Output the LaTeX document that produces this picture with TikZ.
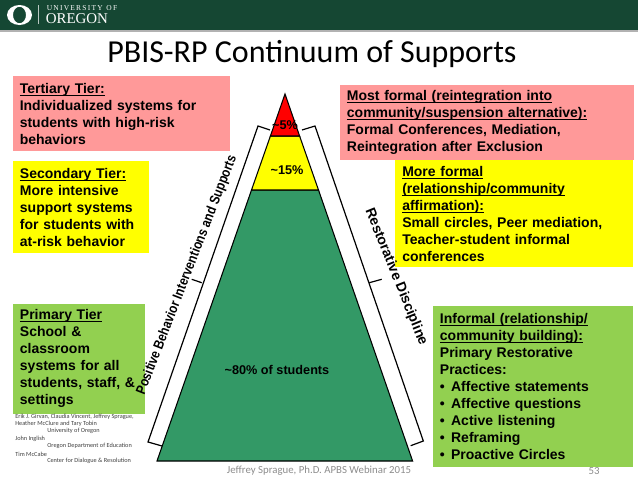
\documentclass[tikz,border=0pt]{standalone}
\usepackage{fontspec}
\setmainfont{Liberation Sans}
\newfontfamily\slidefont{Carlito}
\newfontfamily\logofont{Liberation Serif}
\usetikzlibrary{positioning}
\definecolor{uogreen}{HTML}{154733}
\definecolor{tierpink}{HTML}{FF9999}
\definecolor{tieryellow}{HTML}{FFFF00}
\definecolor{tiergreen}{HTML}{92D050}
\definecolor{pyramidgreen}{HTML}{339966}
\definecolor{footgray}{HTML}{8C8C8C}
\newcommand{\tierhead}[1]{\vphantom{Ag}\underline{\smash{#1}}}
\newcommand{\tierbullet}{\makebox[8.4pt][l]{\textbullet}}

\begin{document}
\begin{tikzpicture}[
  x=0.75pt, y=-0.75pt,
  tier/.style={rectangle, anchor=north west, align=left, inner sep=0pt, font=\fontsize{10.5}{12.75}\selectfont\bfseries},
  level/.style={draw=black, line width=0.8pt},
  bracket/.style={draw=black, line width=0.9pt},
  sidelabel/.style={font=\fontsize{10.5}{13}\selectfont\bfseries, inner sep=0pt},
  pct/.style={font=\fontsize{9.5}{11}\selectfont\bfseries, inner sep=0pt},
  credit/.style={anchor=west, inner sep=0pt, text=black!75, font=\slidefont\fontsize{4.7}{6}\selectfont},
  foot/.style={inner sep=0pt, text=footgray, font=\slidefont\fontsize{8.1}{10}\selectfont}
]
  \useasboundingbox (0,0) rectangle (638,479);

  % header band
  \fill[black!30] (0,30) rectangle (638,32);
  \fill[uogreen] (0,0) rectangle (638,30);
  \fill[white, even odd rule] (19.5,15) ellipse [x radius=12.5, y radius=10] (19.5,15) ellipse [x radius=6.5, y radius=8.3];
  \draw[white!70!uogreen, line width=0.6pt] (38,5) -- (38,24);
  \node[anchor=west, inner sep=0pt, text=white, font=\logofont\fontsize{5.6}{6}\selectfont] (univ) at (46.5,8.3) {U\,N\,I\,V\,E\,R\,S\,I\,T\,Y\ \ O\,F};
  \node[anchor=west, inner sep=0pt, text=white, font=\logofont\fontsize{11.2}{14}\selectfont] (oregon) at (45.5,18.6) {OREGON};

  \node[inner sep=0pt, font=\slidefont\fontsize{24}{30}\selectfont] (title) at (312,54) {PBIS-RP Continuum of Supports};

  % left boxes
  \node[tier, fill=tierpink, minimum width=162.75pt, minimum height=56.25pt, text width=153pt, inner xsep=4.9pt] (tertiary) at (13,76)
    {\tierhead{Tertiary Tier:}\\Individualized systems for\\students with high-risk\\behaviors};
  \node[tier, fill=tieryellow, minimum width=102pt, minimum height=69pt, text width=92pt, inner xsep=4.9pt] (secondary) at (13,161)
    {\tierhead{Secondary Tier:}\\More intensive\\support systems\\for students with\\at-risk behavior};
  \node[tier, fill=tiergreen, minimum width=99pt, minimum height=82pt, text width=89pt, inner xsep=4.9pt] (primary) at (13,304)
    {\tierhead{Primary Tier}\\School \&\\classroom\\systems for all\\students, staff, \&\\settings};

  % right boxes
  \node[tier, fill=tierpink, minimum width=219.75pt, minimum height=56.25pt, text width=210pt, inner xsep=5pt] (mostformal) at (340,85)
    {\tierhead{Most formal (reintegration into}\\\tierhead{community/suspension alternative):}\\Formal Conferences, Mediation,\\Reintegration after Exclusion};
  \node[tier, fill=tieryellow, minimum width=178.5pt, minimum height=80.25pt, text width=168pt, inner xsep=5pt] (moreformal) at (395,160)
    {\tierhead{More formal}\\\tierhead{(relationship/community}\\\tierhead{affirmation):}\\Small circles, Peer mediation,\\Teacher-student informal\\conferences};
  \node[tier, fill=tiergreen, minimum width=150pt, minimum height=120.75pt, text width=140pt, inner xsep=4.6pt] (informal) at (433,306)
    {\tierhead{Informal (relationship/}\\\tierhead{community building):}\\Primary Restorative\\Practices:\\\tierbullet Affective statements\\\tierbullet Affective questions\\\tierbullet Active listening\\\tierbullet Reframing\\\tierbullet Proactive Circles};

  % pyramid
  \filldraw[level, fill=pyramidgreen] (251.5,190) -- (318.5,190) -- (412.6,461) -- (157,461) -- cycle;
  \filldraw[level, fill=tieryellow] (270.4,136) -- (299.6,136) -- (318.5,190) -- (251.5,190) -- cycle;
  \filldraw[level, fill=red] (285,94) -- (299.6,136) -- (270.4,136) -- cycle;

  \node[pct] (top) at (285,125) {\textasciitilde5\%};
  \node[pct] (mid) at (287,170) {\textasciitilde15\%};
  \node[pct] (base) at (277,370) {\textasciitilde80\% of students};

  % brackets
  \draw[bracket] (270,130) -- (258,126) -- (148,442) -- (162,446);
  \draw[bracket] (201.7,282.7) -- (191.7,279.3);
  \draw[bracket] (302,130) -- (315,126) -- (423.3,441) -- (410.7,445.7);
  \draw[bracket] (369.3,282.7) -- (381.7,279.3);

  \node[sidelabel, rotate=68.8] (pbis) at (187,275) {\scalebox{0.84}[1]{Positive Behavior Interventions and Supports}};
  \node[sidelabel, rotate=-68] (rd) at (396,277) {Restorative Discipline};

  % credits
  \node[credit] (c1) at (15,417) {Erik J. Girvan, Claudia Vincent, Jeffrey Sprague,};
  \node[credit] (c2) at (15,424) {Heather McClure and Tary Tobin};
  \node[credit] (c3) at (47,431) {University of Oregon};
  \node[credit] (c4) at (15,439) {John Inglish};
  \node[credit] (c5) at (47,446) {Oregon Department of Education};
  \node[credit] (c6) at (15,454) {Tim McCabe};
  \node[credit] (c7) at (47,461) {Center for Dialogue \& Resolution};

  \node[foot] (speaker) at (319,471) {Jeffrey Sprague, Ph.D. APBS Webinar 2015};
  \node[foot] (pagenum) at (594,471) {53};
\end{tikzpicture}
\end{document}
